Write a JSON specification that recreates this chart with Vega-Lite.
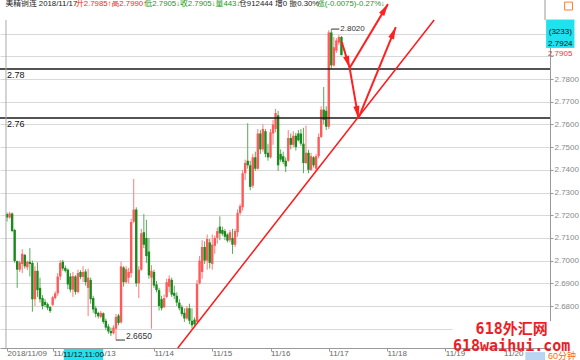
{
  "$schema": "https://vega.github.io/schema/vega-lite/v6.json",
  "width": 550,
  "height": 328,
  "autosize": {"type": "none"},
  "padding": {"left": 0, "top": 20, "right": 30, "bottom": 12},
  "background": "white",
  "config": {
    "view": {"stroke": null},
    "font": "Liberation Sans, Noto Sans CJK SC, sans-serif",
    "text": {"font": "Liberation Sans, Noto Sans CJK SC, sans-serif"}
  },
  "resolve": {"axis": {"x": "independent", "y": "independent"}},
  "datasets": {
    "bars": [
      {"i":0,"o":2.7205,"h":2.7212,"l":2.7172,"c":2.7190},
      {"i":1,"o":2.7190,"h":2.7215,"l":2.7185,"c":2.7208},
      {"i":2,"o":2.7208,"h":2.7212,"l":2.7125,"c":2.7130},
      {"i":3,"o":2.7135,"h":2.7140,"l":2.6990,"c":2.6998},
      {"i":4,"o":2.6998,"h":2.7000,"l":2.6880,"c":2.6960},
      {"i":5,"o":2.6960,"h":2.7000,"l":2.6950,"c":2.6992},
      {"i":6,"o":2.6985,"h":2.7050,"l":2.6945,"c":2.7030},
      {"i":7,"o":2.7025,"h":2.7030,"l":2.6965,"c":2.6975},
      {"i":8,"o":2.6970,"h":2.7000,"l":2.6958,"c":2.6995},
      {"i":9,"o":2.6995,"h":2.7055,"l":2.6930,"c":2.6985},
      {"i":10,"o":2.6990,"h":2.7000,"l":2.6775,"c":2.6830},
      {"i":11,"o":2.6830,"h":2.6975,"l":2.6800,"c":2.6955},
      {"i":12,"o":2.6955,"h":2.6992,"l":2.6840,"c":2.6870},
      {"i":13,"o":2.6880,"h":2.6925,"l":2.6815,"c":2.6830},
      {"i":14,"o":2.6835,"h":2.6848,"l":2.6785,"c":2.6800},
      {"i":15,"o":2.6818,"h":2.6830,"l":2.6795,"c":2.6805},
      {"i":16,"o":2.6808,"h":2.6815,"l":2.6782,"c":2.6792},
      {"i":17,"o":2.6795,"h":2.6800,"l":2.6770,"c":2.6778},
      {"i":18,"o":2.6805,"h":2.6845,"l":2.6800,"c":2.6838},
      {"i":19,"o":2.6835,"h":2.6865,"l":2.6828,"c":2.6856},
      {"i":20,"o":2.6856,"h":2.6945,"l":2.6845,"c":2.6930},
      {"i":21,"o":2.6930,"h":2.7002,"l":2.6915,"c":2.6990},
      {"i":22,"o":2.6995,"h":2.7003,"l":2.6955,"c":2.6965},
      {"i":23,"o":2.6968,"h":2.6978,"l":2.6948,"c":2.6955},
      {"i":24,"o":2.6960,"h":2.6965,"l":2.6875,"c":2.6895},
      {"i":25,"o":2.6930,"h":2.6945,"l":2.6860,"c":2.6872},
      {"i":26,"o":2.6872,"h":2.6950,"l":2.6840,"c":2.6932},
      {"i":27,"o":2.6930,"h":2.6936,"l":2.6850,"c":2.6862},
      {"i":28,"o":2.6862,"h":2.6960,"l":2.6855,"c":2.6945},
      {"i":29,"o":2.6950,"h":2.6958,"l":2.6918,"c":2.6928},
      {"i":30,"o":2.6928,"h":2.6975,"l":2.6905,"c":2.6950},
      {"i":31,"o":2.6952,"h":2.6962,"l":2.6890,"c":2.6905},
      {"i":32,"o":2.6880,"h":2.6965,"l":2.6755,"c":2.6925},
      {"i":33,"o":2.6915,"h":2.6925,"l":2.6810,"c":2.6830},
      {"i":34,"o":2.6835,"h":2.6845,"l":2.6770,"c":2.6785},
      {"i":35,"o":2.6790,"h":2.6800,"l":2.6750,"c":2.6765},
      {"i":36,"o":2.6770,"h":2.6775,"l":2.6745,"c":2.6755},
      {"i":37,"o":2.6752,"h":2.6778,"l":2.6745,"c":2.6770},
      {"i":38,"o":2.6768,"h":2.6772,"l":2.6722,"c":2.6730},
      {"i":39,"o":2.6735,"h":2.6745,"l":2.6695,"c":2.6705},
      {"i":40,"o":2.6710,"h":2.6720,"l":2.6678,"c":2.6688},
      {"i":41,"o":2.6690,"h":2.6705,"l":2.6668,"c":2.6680},
      {"i":42,"o":2.6680,"h":2.6715,"l":2.6675,"c":2.6705},
      {"i":43,"o":2.6700,"h":2.6765,"l":2.6650,"c":2.6752},
      {"i":44,"o":2.6758,"h":2.6765,"l":2.6715,"c":2.6725},
      {"i":45,"o":2.6728,"h":2.6995,"l":2.6722,"c":2.6975},
      {"i":46,"o":2.6970,"h":2.6975,"l":2.6885,"c":2.6905},
      {"i":47,"o":2.6905,"h":2.6975,"l":2.6900,"c":2.6962},
      {"i":48,"o":2.6925,"h":2.6968,"l":2.6900,"c":2.6950},
      {"i":49,"o":2.6945,"h":2.7185,"l":2.6925,"c":2.7170},
      {"i":50,"o":2.7172,"h":2.7360,"l":2.7165,"c":2.7225},
      {"i":51,"o":2.7225,"h":2.7235,"l":2.6885,"c":2.6900},
      {"i":52,"o":2.6900,"h":2.6975,"l":2.6835,"c":2.6960},
      {"i":53,"o":2.6960,"h":2.7140,"l":2.6955,"c":2.7120},
      {"i":54,"o":2.7125,"h":2.7205,"l":2.7055,"c":2.7070},
      {"i":55,"o":2.7100,"h":2.7180,"l":2.6990,"c":2.7020},
      {"i":56,"o":2.7040,"h":2.7100,"l":2.6920,"c":2.6935},
      {"i":57,"o":2.6925,"h":2.6980,"l":2.6700,"c":2.6955},
      {"i":58,"o":2.6950,"h":2.6960,"l":2.6880,"c":2.6890},
      {"i":59,"o":2.6895,"h":2.6910,"l":2.6860,"c":2.6870},
      {"i":60,"o":2.6870,"h":2.6880,"l":2.6780,"c":2.6800},
      {"i":61,"o":2.6830,"h":2.6845,"l":2.6780,"c":2.6790},
      {"i":62,"o":2.6795,"h":2.6850,"l":2.6790,"c":2.6835},
      {"i":63,"o":2.6840,"h":2.6920,"l":2.6835,"c":2.6905},
      {"i":64,"o":2.6885,"h":2.6935,"l":2.6860,"c":2.6920},
      {"i":65,"o":2.6915,"h":2.6925,"l":2.6840,"c":2.6850},
      {"i":66,"o":2.6858,"h":2.6890,"l":2.6830,"c":2.6845},
      {"i":67,"o":2.6845,"h":2.6860,"l":2.6800,"c":2.6815},
      {"i":68,"o":2.6815,"h":2.6830,"l":2.6780,"c":2.6790},
      {"i":69,"o":2.6795,"h":2.6805,"l":2.6755,"c":2.6765},
      {"i":70,"o":2.6770,"h":2.6790,"l":2.6730,"c":2.6745},
      {"i":71,"o":2.6745,"h":2.6800,"l":2.6740,"c":2.6790},
      {"i":72,"o":2.6790,"h":2.6810,"l":2.6720,"c":2.6735},
      {"i":73,"o":2.6735,"h":2.6790,"l":2.6700,"c":2.6715},
      {"i":74,"o":2.6740,"h":2.6750,"l":2.6712,"c":2.6720},
      {"i":75,"o":2.6730,"h":2.6915,"l":2.6728,"c":2.6898},
      {"i":76,"o":2.6900,"h":2.7020,"l":2.6895,"c":2.7000},
      {"i":77,"o":2.6950,"h":2.7090,"l":2.6920,"c":2.7060},
      {"i":78,"o":2.7060,"h":2.7085,"l":2.6985,"c":2.7000},
      {"i":79,"o":2.7000,"h":2.7115,"l":2.6960,"c":2.7095},
      {"i":80,"o":2.7080,"h":2.7095,"l":2.6965,"c":2.6990},
      {"i":81,"o":2.6985,"h":2.7115,"l":2.6960,"c":2.7070},
      {"i":82,"o":2.7065,"h":2.7110,"l":2.7030,"c":2.7100},
      {"i":83,"o":2.7100,"h":2.7145,"l":2.7075,"c":2.7130},
      {"i":84,"o":2.7150,"h":2.7195,"l":2.7090,"c":2.7120},
      {"i":85,"o":2.7135,"h":2.7150,"l":2.7110,"c":2.7118},
      {"i":86,"o":2.7130,"h":2.7140,"l":2.7090,"c":2.7105},
      {"i":87,"o":2.7115,"h":2.7120,"l":2.7080,"c":2.7088},
      {"i":88,"o":2.7090,"h":2.7135,"l":2.7080,"c":2.7125},
      {"i":89,"o":2.7100,"h":2.7140,"l":2.7030,"c":2.7070},
      {"i":90,"o":2.7070,"h":2.7140,"l":2.7060,"c":2.7130},
      {"i":91,"o":2.7125,"h":2.7225,"l":2.7105,"c":2.7210},
      {"i":92,"o":2.7210,"h":2.7250,"l":2.7200,"c":2.7240},
      {"i":93,"o":2.7235,"h":2.7400,"l":2.7220,"c":2.7385},
      {"i":94,"o":2.7385,"h":2.7445,"l":2.7355,"c":2.7430},
      {"i":95,"o":2.7440,"h":2.7605,"l":2.7405,"c":2.7420},
      {"i":96,"o":2.7420,"h":2.7440,"l":2.7310,"c":2.7325},
      {"i":97,"o":2.7330,"h":2.7470,"l":2.7320,"c":2.7455},
      {"i":98,"o":2.7455,"h":2.7480,"l":2.7395,"c":2.7405},
      {"i":99,"o":2.7405,"h":2.7580,"l":2.7400,"c":2.7560},
      {"i":100,"o":2.7560,"h":2.7575,"l":2.7470,"c":2.7490},
      {"i":101,"o":2.7490,"h":2.7600,"l":2.7480,"c":2.7580},
      {"i":102,"o":2.7570,"h":2.7580,"l":2.7455,"c":2.7470},
      {"i":103,"o":2.7475,"h":2.7515,"l":2.7440,"c":2.7455},
      {"i":104,"o":2.7455,"h":2.7580,"l":2.7450,"c":2.7565},
      {"i":105,"o":2.7560,"h":2.7620,"l":2.7510,"c":2.7600},
      {"i":106,"o":2.7580,"h":2.7668,"l":2.7565,"c":2.7650},
      {"i":107,"o":2.7640,"h":2.7660,"l":2.7395,"c":2.7420},
      {"i":108,"o":2.7470,"h":2.7490,"l":2.7435,"c":2.7445},
      {"i":109,"o":2.7460,"h":2.7480,"l":2.7425,"c":2.7435},
      {"i":110,"o":2.7440,"h":2.7455,"l":2.7390,"c":2.7415},
      {"i":111,"o":2.7440,"h":2.7575,"l":2.7435,"c":2.7540},
      {"i":112,"o":2.7540,"h":2.7560,"l":2.7490,"c":2.7510},
      {"i":113,"o":2.7510,"h":2.7570,"l":2.7500,"c":2.7550},
      {"i":114,"o":2.7550,"h":2.7562,"l":2.7485,"c":2.7500},
      {"i":115,"o":2.7560,"h":2.7575,"l":2.7525,"c":2.7530},
      {"i":116,"o":2.7560,"h":2.7580,"l":2.7505,"c":2.7515},
      {"i":117,"o":2.7515,"h":2.7585,"l":2.7385,"c":2.7430},
      {"i":118,"o":2.7430,"h":2.7595,"l":2.7425,"c":2.7475},
      {"i":119,"o":2.7475,"h":2.7488,"l":2.7385,"c":2.7400},
      {"i":120,"o":2.7400,"h":2.7475,"l":2.7395,"c":2.7460},
      {"i":121,"o":2.7455,"h":2.7460,"l":2.7410,"c":2.7420},
      {"i":122,"o":2.7405,"h":2.7470,"l":2.7395,"c":2.7460},
      {"i":123,"o":2.7460,"h":2.7560,"l":2.7450,"c":2.7545},
      {"i":124,"o":2.7545,"h":2.7680,"l":2.7540,"c":2.7665},
      {"i":125,"o":2.7665,"h":2.7765,"l":2.7600,"c":2.7620},
      {"i":126,"o":2.7660,"h":2.7680,"l":2.7575,"c":2.7590},
      {"i":127,"o":2.7590,"h":2.8015,"l":2.7580,"c":2.8005},
      {"i":128,"o":2.8005,"h":2.8020,"l":2.7845,"c":2.7860},
      {"i":129,"o":2.7860,"h":2.7985,"l":2.7855,"c":2.7940},
      {"i":130,"o":2.7925,"h":2.7980,"l":2.7915,"c":2.7970},
      {"i":131,"o":2.7960,"h":2.7995,"l":2.7950,"c":2.7985},
      {"i":132,"o":2.7985,"h":2.7990,"l":2.7905,"c":2.7905}
    ],
    "levels": [{"v": 2.7844}, {"v": 2.7628}],
    "trend": [{"i": 67.4, "v": 2.6615}, {"i": 168.6, "v": 2.806}],
    "arrows": [
      {"x1": 132.13, "v1": 2.7963, "x2": 135.23, "v2": 2.7849},
      {"x1": 135.23, "v1": 2.7849, "x2": 150.35, "v2": 2.8130},
      {"x1": 135.23, "v1": 2.7849, "x2": 138.72, "v2": 2.7628},
      {"x1": 138.72, "v1": 2.7628, "x2": 153.45, "v2": 2.8029}
    ],
    "header": [
      {"x": -0.62, "text": "美精铜连 2018/11/17", "kind": "info"},
      {"x": 27.21, "text": "开2.7985↑高2.7990↑", "kind": "up"},
      {"x": 54.26, "text": "低2.7905↓收2.7905↓量443↓", "kind": "down"},
      {"x": 91.59, "text": "仓912444 增0 振0.30%", "kind": "info"},
      {"x": 122.33, "text": "涨(-0.0075)-0.27%↓", "kind": "down"}
    ],
    "cross": [{"i": 22, "time": "11/12,11:00", "n": 3233, "price": 2.7924}],
    "misc": [{"site": "618外汇网", "url": "618waihui.com", "period": "60分钟"}]
  },
  "layer": [
    {
      "data": {"name": "bars"},
      "mark": {"type": "rule", "strokeWidth": 1},
      "encoding": {
        "x": {
          "field": "i", "type": "quantitative",
          "scale": {"domain": [-0.814, 212.36], "nice": false, "zero": false},
          "axis": {
            "title": null,
            "values": [0, 18, 35, 58, 81, 104, 127, 150, 173, 196],
            "labelExpr": "datum.value == 0 ? '2018/11/09' : datum.value == 18 ? '11/12' : datum.value == 35 ? '11/13' : datum.value == 58 ? '11/14' : datum.value == 81 ? '11/15' : datum.value == 104 ? '11/16' : datum.value == 127 ? '11/17' : datum.value == 150 ? '11/18' : datum.value == 173 ? '11/19' : '11/20'",
            "grid": false,
            "domainColor": "#999999",
            "tickColor": "#999999",
            "tickSize": 3,
            "labelAlign": "left",
            "labelBaseline": "top",
            "labelPadding": -2,
            "labelDx": 2,
            "labelFontSize": 8,
            "labelColor": "#666666",
            "labelOverlap": false,
            "labelBound": false,
            "labelFlush": false,
            "zindex": 0
          }
        },
        "y": {
          "field": "l", "type": "quantitative",
          "scale": {"domain": [2.6615, 2.806], "nice": false, "zero": false},
          "axis": {
            "title": null,
            "orient": "right",
            "values": [2.67, 2.68, 2.69, 2.7, 2.71, 2.72, 2.73, 2.74, 2.75, 2.76, 2.77, 2.78, 2.79, 2.8],
            "labelExpr": "datum.value < 2.675 || datum.value > 2.785 ? '' : format(datum.value, '.4f')",
            "grid": true,
            "gridColor": "#d9d9d9",
            "gridWidth": 1,
            "domainColor": "#999999",
            "tickColor": "#999999",
            "tickSize": 3,
            "labelPadding": 1,
            "labelFontSize": 8,
            "labelColor": "#888888",
            "labelOverlap": false,
            "labelBound": false,
            "labelFlush": false,
            "zindex": 0
          }
        },
        "y2": {"field": "h"},
        "color": {"condition": {"test": "datum.c >= datum.o", "value": "#ff7a7a"}, "value": "#5aa85a"}
      }
    },
    {
      "data": {"name": "bars"},
      "mark": {"type": "bar", "width": 2.4},
      "encoding": {
        "x": {"field": "i", "type": "quantitative", "axis": null},
        "y": {"field": "o", "type": "quantitative", "axis": null},
        "y2": {"field": "c"},
        "color": {"condition": {"test": "datum.c >= datum.o", "value": "#ff5a5a"}, "value": "#1a8a1a"}
      }
    },
    {
      "data": {"name": "levels"},
      "mark": {"type": "rule", "color": "#1a1a1a", "strokeWidth": 1.6},
      "encoding": {"y": {"field": "v", "type": "quantitative", "axis": null}}
    },
    {
      "data": {"name": "levels"},
      "mark": {"type": "text", "align": "left", "baseline": "top", "dx": 2, "dy": 2, "fontSize": 9, "color": "#111111"},
      "encoding": {
        "x": {"datum": -0.814, "type": "quantitative", "axis": null},
        "y": {"field": "v", "type": "quantitative", "axis": null},
        "text": {"field": "v", "type": "quantitative", "format": ".2f"}
      }
    },
    {
      "data": {"name": "trend"},
      "mark": {"type": "line", "color": "#ff1a1a", "strokeWidth": 1.5},
      "encoding": {
        "x": {"field": "i", "type": "quantitative", "axis": null},
        "y": {"field": "v", "type": "quantitative", "axis": null}
      }
    },
    {
      "data": {"name": "arrows"},
      "mark": {"type": "rule", "color": "#ff2020", "strokeWidth": 2},
      "encoding": {
        "x": {"field": "x1", "type": "quantitative", "axis": null},
        "y": {"field": "v1", "type": "quantitative", "axis": null},
        "x2": {"field": "x2"},
        "y2": {"field": "v2"}
      }
    },
    {
      "data": {"name": "arrows"},
      "transform": [
        {"calculate": "atan2((datum.x2 - datum.x1) * 2.58, (datum.v2 - datum.v1) * 2270)", "as": "t"},
        {"calculate": "datum.t * 180 / PI", "as": "ang"},
        {"calculate": "datum.x2 - 6 * sin(datum.t) / 2.58", "as": "hx"},
        {"calculate": "datum.v2 - 6 * cos(datum.t) / 2270", "as": "hv"}
      ],
      "mark": {"type": "point", "shape": "M0,-1L0.5,1L-0.5,1Z", "filled": true, "size": 150, "color": "#ff2020", "opacity": 1, "strokeWidth": 0},
      "encoding": {
        "x": {"field": "hx", "type": "quantitative", "axis": null},
        "y": {"field": "hv", "type": "quantitative", "axis": null},
        "angle": {"field": "ang", "type": "quantitative", "scale": null}
      }
    },
    {
      "data": {"name": "bars"},
      "transform": [
        {"joinaggregate": [{"op": "max", "field": "h", "as": "top"}]},
        {"filter": "datum.h == datum.top"}
      ],
      "layer": [
        {
          "mark": {"type": "rule", "color": "#333333", "x2Offset": 8},
          "encoding": {
            "x": {"field": "i", "type": "quantitative", "axis": null},
            "x2": {"field": "i"},
            "y": {"field": "h", "type": "quantitative", "axis": null}
          }
        },
        {
          "mark": {"type": "text", "align": "left", "baseline": "middle", "dx": 9, "fontSize": 8, "color": "#333333"},
          "encoding": {
            "x": {"field": "i", "type": "quantitative", "axis": null},
            "y": {"field": "h", "type": "quantitative", "axis": null},
            "text": {"field": "h", "type": "quantitative", "format": ".4f"}
          }
        }
      ]
    },
    {
      "data": {"name": "bars"},
      "transform": [
        {"joinaggregate": [{"op": "min", "field": "l", "as": "bottom"}]},
        {"filter": "datum.l == datum.bottom"}
      ],
      "layer": [
        {
          "mark": {"type": "rule", "color": "#333333", "x2Offset": 9},
          "encoding": {
            "x": {"field": "i", "type": "quantitative", "axis": null},
            "x2": {"field": "i"},
            "y": {"field": "l", "type": "quantitative", "axis": null}
          }
        },
        {
          "mark": {"type": "text", "align": "left", "baseline": "bottom", "dx": 10, "dy": 1, "fontSize": 8.5, "color": "#333333"},
          "encoding": {
            "x": {"field": "i", "type": "quantitative", "axis": null},
            "y": {"field": "l", "type": "quantitative", "axis": null},
            "text": {"field": "l", "type": "quantitative", "format": ".4f"}
          }
        }
      ]
    },
    {
      "data": {"name": "bars"},
      "transform": [
        {"joinaggregate": [{"op": "max", "field": "i", "as": "last"}]},
        {"filter": "datum.i == datum.last"}
      ],
      "mark": {"type": "text", "align": "left", "baseline": "middle", "dy": -1.5, "fontSize": 8, "color": "#ff3030"},
      "encoding": {
        "x": {"datum": 213.5, "type": "quantitative", "axis": null},
        "y": {"field": "c", "type": "quantitative", "axis": null},
        "text": {"field": "c", "type": "quantitative", "format": ".4f"}
      }
    },
    {
      "data": {"name": "header"},
      "mark": {"type": "text", "align": "left", "baseline": "middle", "fontSize": 7.8},
      "encoding": {
        "x": {"field": "x", "type": "quantitative", "axis": null},
        "y": {"datum": 2.8131, "type": "quantitative", "axis": null},
        "text": {"field": "text"},
        "color": {
          "field": "kind", "type": "nominal",
          "scale": {"domain": ["info", "up", "down"], "range": ["#222222", "#f02828", "#1e961e"]},
          "legend": null
        }
      }
    },
    {
      "data": {"name": "cross"},
      "layer": [
        {
          "mark": {"type": "rect", "color": "#20e2ee"},
          "encoding": {
            "x": {"datum": 212.8, "type": "quantitative", "axis": null},
            "x2": {"datum": 224},
            "y": {"datum": 2.7937, "type": "quantitative", "axis": null},
            "y2": {"datum": 2.8062}
          }
        },
        {
          "mark": {"type": "text", "align": "center", "baseline": "middle", "fontSize": 8, "color": "#111111"},
          "encoding": {
            "x": {"datum": 218.4, "type": "quantitative", "axis": null},
            "y": {"datum": 2.8008, "type": "quantitative", "axis": null},
            "text": {"value": "(3233)"}
          }
        },
        {
          "mark": {"type": "text", "align": "center", "baseline": "middle", "dy": -7, "fontSize": 8, "color": "#111111"},
          "encoding": {
            "x": {"datum": 218.4, "type": "quantitative", "axis": null},
            "y": {"field": "price", "type": "quantitative", "axis": null},
            "text": {"field": "price", "type": "quantitative", "format": ".4f"}
          }
        },
        {
          "mark": {"type": "rect", "color": "#20e2ee"},
          "encoding": {
            "x": {"datum": 22.4, "type": "quantitative", "axis": null},
            "x2": {"datum": 37.9},
            "y": {"datum": 2.6558, "type": "quantitative", "axis": null},
            "y2": {"datum": 2.6611}
          }
        },
        {
          "mark": {"type": "text", "align": "center", "baseline": "middle", "fontSize": 8, "color": "#111111"},
          "encoding": {
            "x": {"datum": 30.15, "type": "quantitative", "axis": null},
            "y": {"datum": 2.6586, "type": "quantitative", "axis": null},
            "text": {"field": "time"}
          }
        }
      ]
    },
    {
      "data": {"name": "misc"},
      "layer": [
        {
          "mark": {"type": "rule", "color": "#999999"},
          "encoding": {
            "x": {"datum": 212.36, "type": "quantitative", "axis": null},
            "y": {"datum": 2.806, "type": "quantitative", "axis": null},
            "y2": {"datum": 2.8148}
          }
        },
        {
          "mark": {"type": "rule", "color": "#aaaaaa"},
          "encoding": {
            "x": {"datum": -0.43, "type": "quantitative", "axis": null},
            "y": {"datum": 2.6615, "type": "quantitative", "axis": null},
            "y2": {"datum": 2.806}
          }
        },
        {
          "mark": {"type": "rect", "filled": false, "stroke": "#ff7f27", "strokeWidth": 1},
          "encoding": {
            "x": {"datum": 220.1, "type": "quantitative", "axis": null},
            "x2": {"datum": 223.2},
            "y": {"datum": 2.8104, "type": "quantitative", "axis": null},
            "y2": {"datum": 2.8139}
          }
        },
        {
          "mark": {"type": "rect", "color": "white"},
          "encoding": {
            "x": {"datum": 175.93, "type": "quantitative", "axis": null},
            "x2": {"datum": 222.05},
            "y": {"datum": 2.66194, "type": "quantitative", "axis": null},
            "y2": {"datum": 2.67339}
          }
        },
        {
          "mark": {"type": "rect", "color": "#b9d5f1"},
          "encoding": {
            "x": {"datum": 204.6, "type": "quantitative", "axis": null},
            "x2": {"datum": 212.4},
            "y": {"datum": 2.6558, "type": "quantitative", "axis": null},
            "y2": {"datum": 2.6597}
          }
        },
        {
          "mark": {"type": "text", "align": "left", "baseline": "top", "fontSize": 9, "color": "#ff6a00"},
          "encoding": {
            "x": {"datum": 213.5, "type": "quantitative", "axis": null},
            "y": {"datum": 2.6597, "type": "quantitative", "axis": null},
            "text": {"field": "period"}
          }
        },
        {
          "mark": {"type": "text", "align": "center", "baseline": "middle", "fontSize": 15, "fontWeight": "bold", "font": "DejaVu Sans Mono, Noto Sans CJK SC", "color": "#ee1c25"},
          "encoding": {
            "x": {"datum": 199.2, "type": "quantitative", "axis": null},
            "y": {"datum": 2.66987, "type": "quantitative", "axis": null},
            "text": {"field": "site"}
          }
        },
        {
          "mark": {"type": "text", "align": "center", "baseline": "middle", "fontSize": 15, "fontWeight": "bold", "font": "DejaVu Sans Mono", "color": "#ee1c25"},
          "encoding": {
            "x": {"datum": 199.2, "type": "quantitative", "axis": null},
            "y": {"datum": 2.6626, "type": "quantitative", "axis": null},
            "text": {"field": "url"}
          }
        }
      ]
    }
  ]
}
